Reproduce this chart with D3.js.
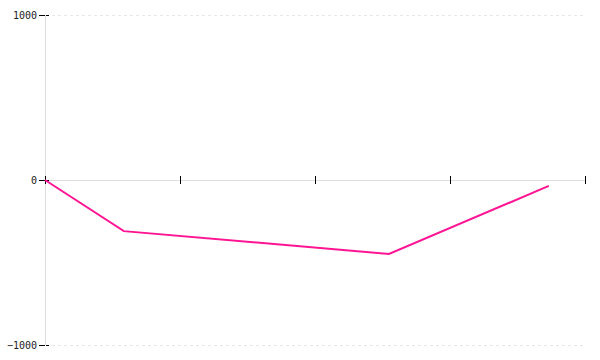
<!DOCTYPE html>
<html>
<head>
<meta charset="utf-8">
<script src="https://cdn.jsdelivr.net/npm/d3@7"></script>
<style>
  body { margin: 0; background: #fff; }
  svg { display: block; }
  .tick text { font-family: "DejaVu Sans Mono", monospace; font-size: 10px; fill: #222; }
</style>
</head>
<body>
<svg id="chart" width="600" height="360"></svg>
<script>
// series
var xValues = [0, 14.6, 63.7, 93.3];
var yValues = [0, -310, -448, -36];
// axis ticks
var xTicks = [0, 25, 50, 75, 100];
var yTicks = [-1000, 0, 1000];

(function() {
  var svg = d3.select("#chart");
  var padL = 45, padR = 585, padT = 15, padB = 345;

  var x = d3.scaleLinear().domain([0, 100]).range([padL, padR]);
  var y = d3.scaleLinear().domain([-1000, 1000]).range([padB, padT]);

  // dotted gridlines at top and bottom
  svg.append("g").selectAll("line")
    .data([-1000, 1000]).enter()
    .append("line")
      .attr("x1", padL + 7).attr("x2", padR)
      .attr("y1", function(d) { return y(d) + 0.5; })
      .attr("y2", function(d) { return y(d) + 0.5; })
      .attr("stroke", "#e6e6e6")
      .attr("stroke-dasharray", "3,3");

  // y axis line
  svg.append("line")
    .attr("x1", padL + 0.5).attr("x2", padL + 0.5)
    .attr("y1", padT).attr("y2", padB)
    .attr("stroke", "#ddd");

  // x axis line at zero
  svg.append("line")
    .attr("x1", padL).attr("x2", padR)
    .attr("y1", y(0) + 0.5).attr("y2", y(0) + 0.5)
    .attr("stroke", "#ddd");

  // y ticks + labels
  var yAxis = d3.axisLeft(y).tickValues(yTicks).tickSize(6).tickPadding(2)
    .tickFormat(d3.format("d"));
  var gy = svg.append("g").attr("transform", "translate(" + padL + ",0)").call(yAxis);
  gy.select(".domain").remove();
  gy.selectAll(".tick line").attr("stroke", "#000");
  gy.selectAll(".tick").append("line")
    .attr("x1", 1).attr("x2", 4)
    .attr("stroke", "#000");

  // x ticks (no labels)
  var xAxis = d3.axisBottom(x).tickValues(xTicks).tickSize(8).tickFormat("");
  var gx = svg.append("g").attr("transform", "translate(0," + (y(0) - 4) + ")").call(xAxis);
  gx.select(".domain").remove();
  gx.selectAll(".tick line").attr("stroke", "#000");

  // line
  var line = d3.line()
    .x(function(d, i) { return x(xValues[i]); })
    .y(function(d) { return y(d); });

  svg.append("path")
    .datum(yValues)
    .attr("d", line)
    .attr("fill", "none")
    .attr("stroke", "#ff1493")
    .attr("stroke-width", 2);
})();
</script>
</body>
</html>
